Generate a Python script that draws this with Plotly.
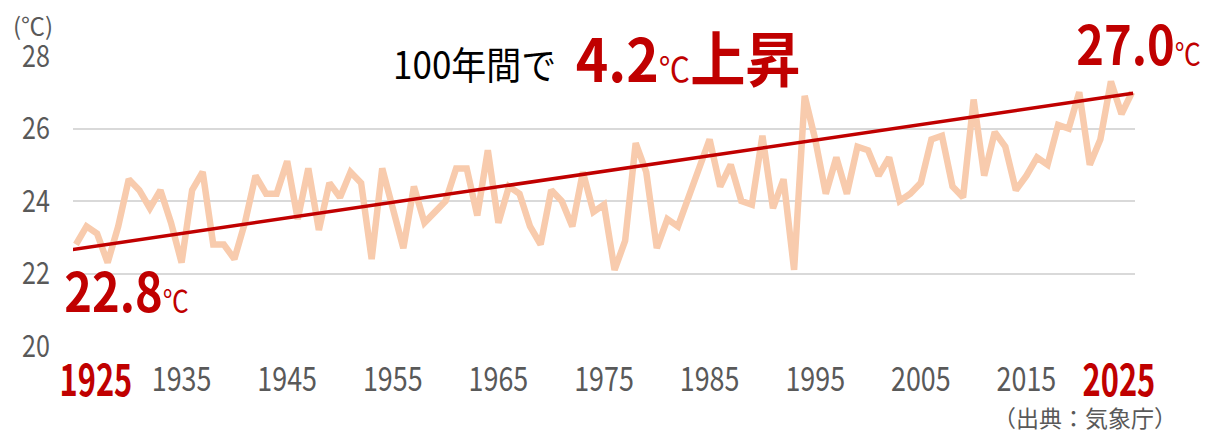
import plotly.graph_objects as go

# ---- data ----
years = list(range(1925, 2026))
temps = [
    22.8, 23.3, 23.1, 22.3, 23.3, 24.6, 24.3, 23.8, 24.3, 23.4,  # 1925-1934
    22.3, 24.3, 24.8, 22.8, 22.8, 22.4, 23.4, 24.7, 24.2, 24.2,  # 1935-1944
    25.1, 23.5, 24.9, 23.2, 24.5, 24.1, 24.8, 24.5, 22.4, 24.9,  # 1945-1954
    23.8, 22.7, 24.4, 23.4, 23.7, 24.0, 24.9, 24.9, 23.6, 25.4,  # 1955-1964
    23.4, 24.4, 24.2, 23.3, 22.8, 24.3, 24.0, 23.3, 24.8, 23.7,  # 1965-1974
    23.9, 22.1, 22.9, 25.6, 24.8, 22.7, 23.5, 23.3, 24.1, 24.9,  # 1975-1984
    25.7, 24.4, 25.0, 24.0, 23.9, 25.8, 23.8, 24.6, 22.1, 26.9,  # 1985-1994
    25.7, 24.2, 25.2, 24.2, 25.5, 25.4, 24.7, 25.2, 24.0, 24.2,  # 1995-2004
    24.5, 25.7, 25.8, 24.4, 24.1, 26.8, 24.7, 25.9, 25.5, 24.3,  # 2005-2014
    24.7, 25.2, 25.0, 26.1, 26.0, 27.0, 25.0, 25.7, 27.3, 26.4,  # 2015-2024
    27.0,                                                        # 2025
]
trend_years = [1924.4, 2025.1]
trend_values = [22.65, 26.97]
x_tick_years = [1935, 1945, 1955, 1965, 1975, 1985, 1995, 2005, 2015]
highlight_years = [1925, 2025]
y_ticks = [20, 22, 24, 26, 28]
start_value = 22.8
end_value = 27.0
unit = "℃"
source_text = "（出典：気象庁）"

# ---- styling ----
W, H = 1206, 431
ML, MR, MT, MB = 73, 71, 56, 85
PW, PH = W - ML - MR, H - MT - MB
RED = "#C00000"
PEACH = "#F8CBAD"
GRAY = "#595959"
FONT = "Noto Sans CJK JP, Noto Sans, sans-serif"


def px(x):
    return (x - ML) / PW


def py(y):
    return 1 - (y - MT) / PH


def fmt(v):
    return f"{v:.1f}"


def font(size, color):
    return dict(family=FONT, size=size, color=color)


fig = go.Figure()
fig.add_trace(go.Scatter(x=years, y=temps, mode="lines",
                         line=dict(color=PEACH, width=6.5),
                         hoverinfo="skip", showlegend=False))
fig.add_trace(go.Scatter(x=trend_years, y=trend_values, mode="lines",
                         line=dict(color=RED, width=3.5),
                         hoverinfo="skip", showlegend=False))

ann = []
squeeze = []


def add(a, f=1.0):
    ann.append(a)
    squeeze.append(f)


add(dict(xref="paper", yref="paper", x=px(33), y=py(24), xanchor="center", yanchor="middle",
         text="(℃)", showarrow=False, font=font(24, GRAY)), 1.0)
add(dict(xref="paper", yref="paper", x=px(474), y=py(62), xanchor="center", yanchor="middle",
         text="100年間で", showarrow=False, font=font(38, "#000000")), 0.92)
rise = end_value - start_value
add(dict(xref="paper", yref="paper", x=px(688), y=py(55), xanchor="center", yanchor="middle",
         text=f"<b>{fmt(rise)}</b><span style='font-size:34px'>{unit}</span><b>上昇</b>",
         showarrow=False, font=font(60, RED)), 0.92)
add(dict(xref="paper", yref="paper", x=px(126), y=py(288), xanchor="center", yanchor="middle",
         text=f"<b>{fmt(start_value)}</b><span style='font-size:30px'>{unit}</span>",
         showarrow=False, font=font(54, RED)), 0.87)
add(dict(xref="paper", yref="paper", x=px(1138), y=py(42), xanchor="center", yanchor="middle",
         text=f"<b>{fmt(end_value)}</b><span style='font-size:30px'>{unit}</span>",
         showarrow=False, font=font(54, RED)), 0.87)
for yr, cx in zip(highlight_years, [95.5, 1119]):
    add(dict(xref="paper", yref="paper", x=px(cx), y=py(377), xanchor="center", yanchor="middle",
             text=f"<b>{yr}</b>", showarrow=False, font=font(44, RED)), 0.70)
add(dict(xref="paper", yref="paper", x=px(1085), y=py(417), xanchor="center", yanchor="middle",
         text=source_text, showarrow=False, font=font(23, GRAY)), 1.0)

fig.update_layout(
    width=W, height=H,
    margin=dict(l=ML, r=MR, t=MT, b=MB, autoexpand=False),
    paper_bgcolor="white", plot_bgcolor="white",
    annotations=ann,
    xaxis=dict(range=[1924.72, 2025.28], tickvals=x_tick_years,
               ticktext=[str(v) for v in x_tick_years],
               tickfont=font(34, GRAY),
               showgrid=False, zeroline=False, showline=False, ticks="",
               ticklabelstandoff=10, automargin=False),
    yaxis=dict(range=[20, 28], tickvals=y_ticks,
               tickfont=font(31, GRAY),
               gridcolor="#D9D9D9", gridwidth=2, zeroline=False, showline=False,
               ticks="", ticklabelstandoff=22, automargin=False),
)
for tr in fig.data:
    tr.cliponaxis = False

# narrow the glyphs (condensed look) while keeping real text
factors_js = "[" + ",".join(str(f) for f in squeeze) + "]"
post = """
document.body.style.margin = '0';
var gd = document.getElementById('{plot_id}');
function sq(el, f) {
  if (f === 1 || el.getAttribute('data-sq')) return;
  var L = el.getComputedTextLength();
  el.setAttribute('textLength', (L * f).toFixed(2));
  el.setAttribute('lengthAdjust', 'spacingAndGlyphs');
  el.setAttribute('data-sq', '1');
}
gd.querySelectorAll('.xtick text').forEach(function(t){ sq(t, 0.79); });
gd.querySelectorAll('.ytick text').forEach(function(t){ sq(t, 0.81); });
var fs = FACTORS;
gd.querySelectorAll('g.annotation').forEach(function(g){
  var i = parseInt(g.getAttribute('data-index'));
  var t = g.querySelector('text.annotation-text');
  if (t && !isNaN(i)) sq(t, fs[i]);
});
""".replace("FACTORS", factors_js)

fig.write_html("out.html", post_script=post, config={"displayModeBar": False})
